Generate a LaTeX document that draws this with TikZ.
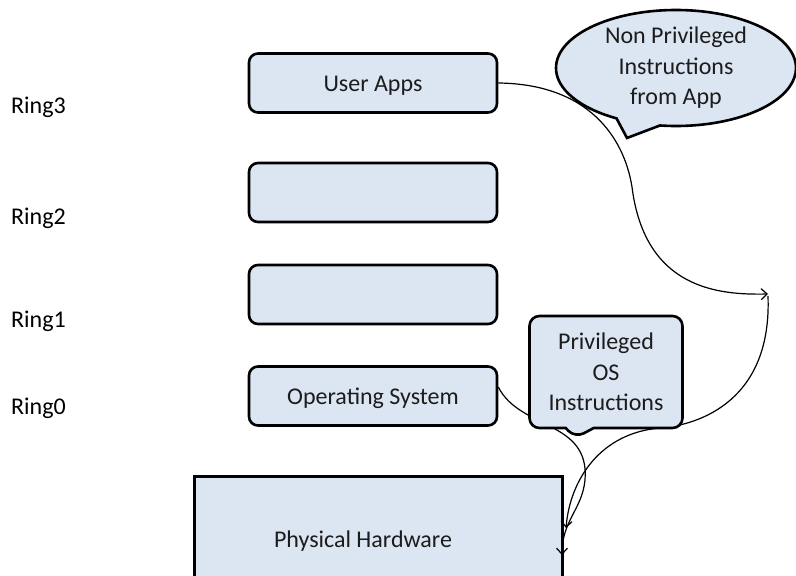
\documentclass[tikz,border=0pt]{standalone}
\usepackage{fontspec}
\setmainfont{Carlito}
\usetikzlibrary{shapes.callouts,arrows.meta}
\definecolor{boxfill}{HTML}{DCE6F2}
\definecolor{ink}{HTML}{1C1C1C}
\pgfdeclarelayer{behind}
\pgfsetlayers{behind,main}
\tikzset{
  every node/.style={font=\fontsize{24}{30.5}\selectfont, text=ink},
  ringlabel/.style={anchor=base west, inner sep=0pt, text=black},
  ringbox/.style={draw=black, line width=2.6pt, fill=boxfill, rounded corners=9pt,
    minimum width=248pt, minimum height=59pt, inner sep=0pt,
    text height=17pt, text depth=1pt},
  hwbox/.style={draw=black, line width=3pt, fill=boxfill, anchor=north west,
    minimum width=368pt, minimum height=140pt, inner sep=0pt},
  bubble/.style={draw=black, line width=2.6pt, fill=boxfill, align=center,
    inner sep=0pt},
  flow/.style={draw=black, line width=1.2pt, -{Straight Barb[length=6pt,width=11pt]}},
}
\begin{document}
\begin{tikzpicture}[x=1pt, y=-1pt]
\clip (0,0) rectangle (796,576);
\begin{pgfonlayer}{behind}
\fill[white] (0,0) rectangle (796,576);
% hardware block sits under the arrows
\node[hwbox] (hw) at (193,475) {};
\node[anchor=base, inner sep=0pt] (hwtext) at (363,547) {Physical Hardware};
\end{pgfonlayer}

% ring labels
\node[ringlabel] (r3) at (11,113) {Ring3};
\node[ringlabel] (r2) at (11,224) {Ring2};
\node[ringlabel] (r1) at (11,327) {Ring1};
\node[ringlabel] (r0) at (11,414) {Ring0};

% ring boxes
\node[ringbox] (ua) at (373,83) {User Apps};
\node[ringbox] (b2) at (373,192.5) {};
\node[ringbox] (b1) at (373,294.5) {};
\node[ringbox] (os) at (373,396) {Operating System};

% callouts
\node[bubble, shape=ellipse callout, minimum width=240pt, minimum height=116pt,
  callout absolute pointer={(627,138)}, callout pointer arc=22] (np) at (676,68)
  {Non Privileged\\Instructions\\from App};
\node[bubble, shape=rectangle callout, rounded corners=10pt, minimum width=153pt,
  minimum height=112pt, callout absolute pointer={(575,438)},
  callout pointer width=28pt] (pr) at (606,372)
  {Privileged\\OS\\Instructions};

% instruction flows, kept beneath the callouts
\begin{pgfonlayer}{behind}
\coordinate (turn) at (768,294);
\draw[flow] (ua.east) .. controls (588,84) and (624,137) .. (632,187)
  .. controls (645,290) and (720,295) .. (turn);
\draw[flow] ([yshift=-2pt]turn) .. controls (772,400) and (700,425) .. (660,428)
  .. controls (600,433) and (570,480) .. (566,528);
\draw[flow] ([yshift=9pt]os.east) .. controls (520,430) and (590,420) .. (585,480)
  .. controls (582,510) and (562,520) .. (562,555);
\end{pgfonlayer}
\end{tikzpicture}
\end{document}
